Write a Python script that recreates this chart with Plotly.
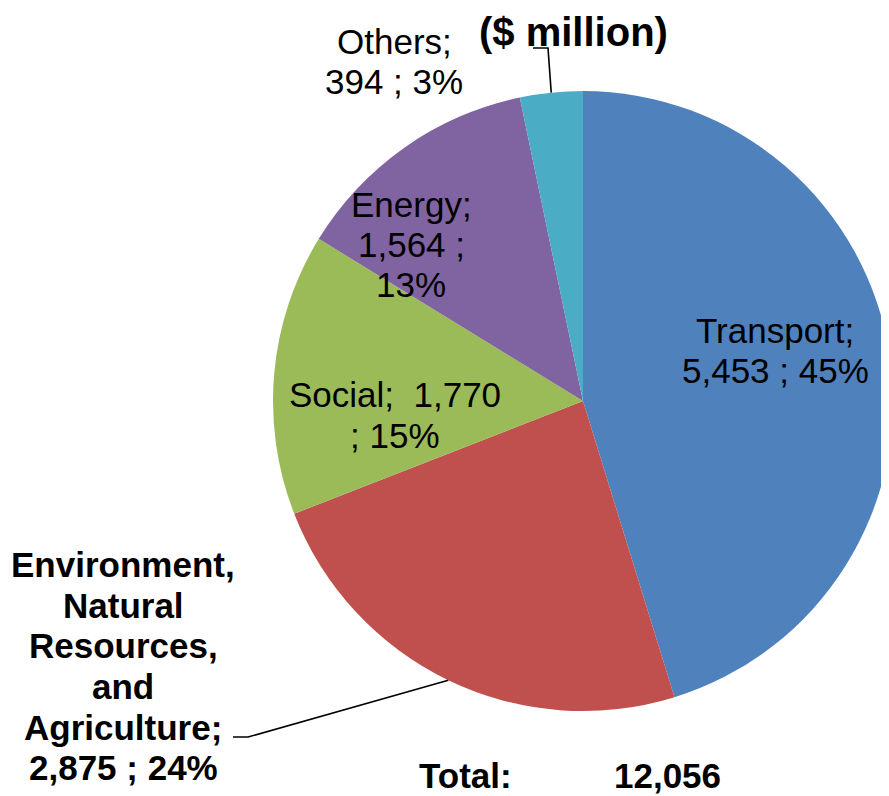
import math
import plotly.graph_objects as go

# ---- data ----
categories = ["Transport", "Environment, Natural Resources, and Agriculture", "Social", "Energy", "Others"]
values = [5453, 2875, 1770, 1564, 394]
colors = ["#4F81BD", "#C0504D", "#9BBB59", "#8064A2", "#4BACC6"]
unit_title = "($ million)"
total_label = "Total:"

W, H = 889, 796
OFF = 8  # page body margin offset
total = sum(values)
pcts = [round(v / total * 100) for v in values]
vals_txt = [f"{v:,}" for v in values]

# label lines built from data
label_lines = [
    ["Transport;", f"{vals_txt[0]} ; {pcts[0]}%"],
    ["Environment,", "Natural", "Resources,", "and", "Agriculture;", f"{vals_txt[1]} ; {pcts[1]}%"],
    [f"Social;  {vals_txt[2]}", f"; {pcts[2]}%"],
    ["Energy;", f"{vals_txt[3]} ;", f"{pcts[3]}%"],
    ["Others;", f"{vals_txt[4]} ; {pcts[4]}%"],
]
# (center x px, first baseline px, line spacing px, bold) in screen pixels
label_pos = [
    (775, 343, 40, False),
    (123, 577, 40.6, True),
    (395, 407, 41, False),
    (411, 217, 40, False),
    (394, 54, 40, False),
]

# pie geometry (screen pixels)
cx_px, cy_px, r_px = 583, 401, 310


def px(x):
    return (x - OFF) / W


def py(y):
    return 1 - (y - OFF) / H


fig = go.Figure(go.Pie(
    labels=categories,
    values=values,
    sort=False,
    direction="clockwise",
    rotation=0,
    marker=dict(colors=colors, line=dict(width=0)),
    textinfo="none",
    hoverinfo="skip",
    showlegend=False,
    domain=dict(x=[px(cx_px - r_px), px(cx_px + r_px)],
                y=[py(cy_px + r_px), py(cy_px - r_px)]),
))

FONT = "Arial, Liberation Sans, sans-serif"
annotations = []


def add_text(text, cx, baseline, size, bold):
    yc = baseline - 0.35 * size
    annotations.append(dict(
        text=f"<b>{text}</b>" if bold else text,
        x=px(cx), y=py(yc), xref="paper", yref="paper",
        xanchor="center", yanchor="middle", showarrow=False,
        font=dict(family=FONT, size=size, color="black"),
    ))


for lines, (cx, b0, sp, bold) in zip(label_lines, label_pos):
    for i, t in enumerate(lines):
        add_text(t, cx, b0 + i * sp, 35, bold)

add_text(unit_title, 573, 46, 40, True)
add_text(total_label, 465, 788, 35, True)
add_text(f"{total:,}", 667, 788, 35, True)


# leader lines from slice mid-angle edge points
def edge_point(idx):
    start = sum(values[:idx])
    mid = (start + values[idx] / 2) / total * 2 * math.pi
    return cx_px + r_px * math.sin(mid), cy_px - r_px * math.cos(mid)


shapes = []
leader_paths = {
    1: [(248, 737), (233, 737)],
    4: [(548, 48), (533, 48)],
}
for idx, pts in leader_paths.items():
    ex, ey = edge_point(idx)
    all_pts = [(ex, ey)] + pts
    d = "M " + " L ".join(f"{px(x)},{py(y)}" for x, y in all_pts)
    shapes.append(dict(type="path", path=d, xref="paper", yref="paper",
                       line=dict(color="black", width=1.6)))

fig.update_layout(
    width=W, height=H,
    margin=dict(l=0, r=0, t=0, b=0),
    paper_bgcolor="white", plot_bgcolor="white",
    annotations=annotations, shapes=shapes,
)

fig.write_html("out.html")
